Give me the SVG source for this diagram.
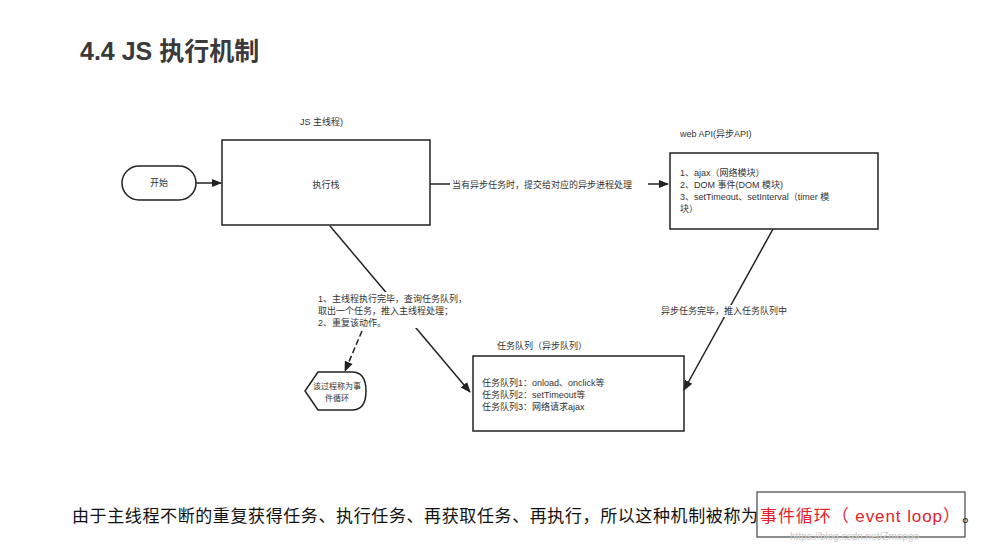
<svg xmlns="http://www.w3.org/2000/svg" width="994" height="549" viewBox="0 0 994 549">
<style>
text{font-family:"Liberation Sans","Noto Sans CJK SC",sans-serif;fill:#333}
.s{font-size:9px}
.b{fill:#fff;stroke:#222;stroke-width:1.5}
.c{stroke:#222;stroke-width:1.5;fill:none;marker-end:url(#a)}
</style>
<defs><marker id="a" viewBox="0 0 10 10" refX="9" refY="5" markerWidth="7" markerHeight="7" orient="auto"><path d="M0,1L10,5L0,9z" fill="#222"/></marker></defs>
<rect width="994" height="549" fill="#fff"/>
<text x="80" y="60" font-size="25" font-weight="bold" style="fill:#3a3a3a">4.4 JS 执行机制</text>
<g id="start"><rect class="b" x="122" y="166" width="74" height="34" rx="17"/><text class="s" x="159" y="186" text-anchor="middle">开始</text></g>
<g id="main"><text class="s" x="300" y="125">JS 主线程)</text><rect class="b" x="222" y="140" width="208" height="85"/><text class="s" x="326" y="188" text-anchor="middle">执行栈</text></g>
<g id="webapi"><text class="s" x="680" y="137">web API(异步API)</text><rect class="b" x="670" y="153" width="208" height="76"/>
<text class="s" x="680" y="176">1、ajax（网络模块）</text><text class="s" x="680" y="188">2、DOM 事件(DOM 模块)</text><text class="s" x="680" y="200">3、setTimeout、setInterval（timer 模</text><text class="s" x="680" y="212">块）</text></g>
<g id="queue"><text class="s" x="497" y="349">任务队列（异步队列）</text><rect class="b" x="473" y="356" width="211" height="75"/>
<text class="s" x="482" y="386">任务队列1：onload、onclick等</text><text class="s" x="482" y="398">任务队列2：setTimeout等</text><text class="s" x="482" y="410">任务队列3：网络请求ajax</text></g>
<g id="loop"><path class="b" d="M318,372H352Q366,372 366,391Q366,410 352,410H318L305,391Z"/><text x="337" y="389" font-size="8" text-anchor="middle">该过程称为事</text><text x="337" y="401" font-size="8" text-anchor="middle">件循环</text></g>
<g id="connectors">
<path class="c" d="M196,183H221"/>
<path class="c" d="M430,184H668"/>
<path class="c" d="M773,229L684,390"/>
<path class="c" d="M330,226L470,392"/>
<path class="c" d="M362,331L345,371" stroke-dasharray="6,3"/>
<rect x="450" y="179" width="198" height="12" fill="#fff"/>
<text class="s" x="452" y="188">当有异步任务时，提交给对应的异步进程处理</text>
<rect x="318" y="292" width="170" height="36" fill="#fff"/>
<text class="s" x="318" y="302">1、主线程执行完毕，查询任务队列，</text><text class="s" x="318" y="314">取出一个任务，推入主线程处理；</text><text class="s" x="318" y="326">2、重复该动作。</text>
<rect x="660" y="305" width="140" height="12" fill="#fff"/>
<text class="s" x="661" y="314">异步任务完毕，推入任务队列中</text>
</g>
<text x="72" y="522" font-size="17" style="fill:#111" textLength="686" lengthAdjust="spacing">由于主线程不断的重复获得任务、执行任务、再获取任务、再执行，所以这种机制被称为</text>
<text x="760" y="522" font-size="17" style="fill:#e8212a" textLength="200" lengthAdjust="spacing">事件循环（ event loop）</text>
<text x="962" y="522" font-size="17" style="fill:#111">。</text>
<rect x="757" y="492" width="208" height="45" fill="none" stroke="#444" stroke-width="1.2"/>
<text x="790" y="540" font-size="10" style="fill:#ccc">https://blog.csdn.net/Zmopgo</text>
</svg>
